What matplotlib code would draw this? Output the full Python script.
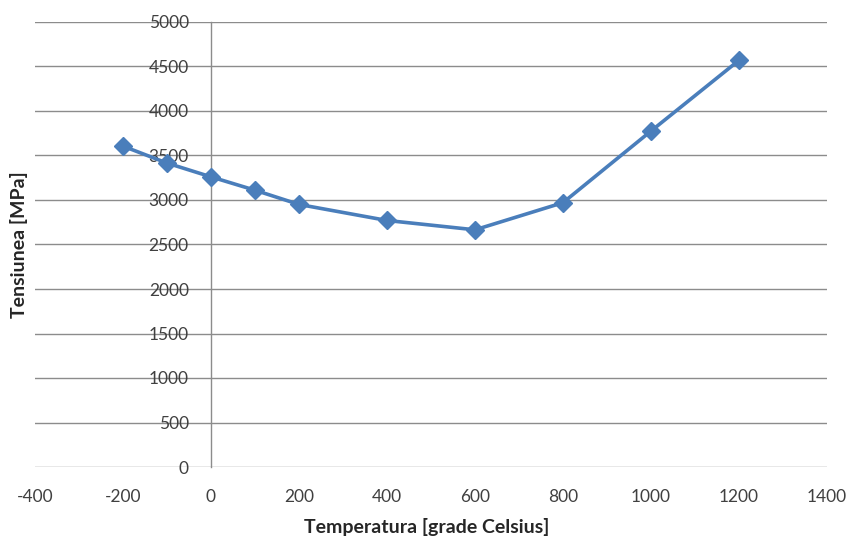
import matplotlib
matplotlib.use("Agg")
import matplotlib.pyplot as plt

temps = [-200, -100, 0, 100, 200, 400, 600, 800, 1000, 1200]
stress = [3605, 3415, 3260, 3110, 2950, 2770, 2665, 2970, 3775, 4570]
xticks = [-400, -200, 0, 200, 400, 600, 800, 1000, 1200, 1400]
yticks = [0, 500, 1000, 1500, 2000, 2500, 3000, 3500, 4000, 4500, 5000]

plt.rcParams['font.family'] = ['Lato', 'DejaVu Sans']

fig = plt.figure(figsize=(8.52, 5.4), dpi=100)
ax = fig.add_axes([35/852, (540-467)/540, 792/852, 445/540])

ax.set_xlim(-400, 1400)
ax.set_ylim(0, 5000)
ax.set_xticks(xticks)
ax.set_yticks(yticks)
ax.set_xticklabels([str(v) for v in xticks])
ax.set_yticklabels([str(v) for v in yticks])

for y in yticks:
    ax.axhline(y, color='#8c8c8c', lw=1.0, zorder=1)

for s in ['top', 'right', 'bottom']:
    ax.spines[s].set_visible(False)
ax.spines['left'].set_position(('data', 0))
ax.spines['left'].set_color('#8c8c8c')
ax.spines['left'].set_linewidth(1.0)

ax.tick_params(axis='y', length=0, pad=16, labelsize=12.5, colors='#404040')
ax.tick_params(axis='x', length=0, pad=16, labelsize=12.5, colors='#404040')

ax.plot(temps, stress, color='#4A7EBB', lw=2.6, marker='D', markersize=9.5,
        markerfacecolor='#4A7EBB', markeredgecolor='#4A7EBB', zorder=3, clip_on=False)

fig.text(427/852, (540-527)/540, 'Temperatura [grade Celsius]', fontsize=14,
         fontweight='bold', color='#262626', ha='center', va='center')
fig.text(19/852, (540-245)/540, 'Tensiunea [MPa]', fontsize=14, rotation=90,
         fontweight='bold', color='#262626', ha='center', va='center')

fig.savefig('out.png', dpi=100)
